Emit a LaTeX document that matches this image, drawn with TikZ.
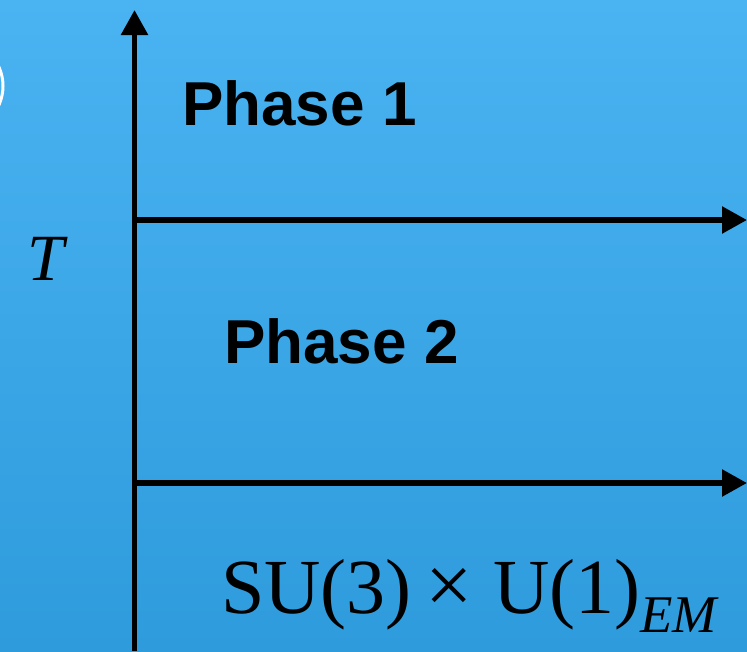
\documentclass[tikz,border=0pt]{standalone}
\usepackage{fontspec}
\setmainfont{Liberation Serif}
\newfontfamily\phasefont{Liberation Sans}
\usetikzlibrary{arrows.meta}
\definecolor{bgtop}{HTML}{4AB3F2}
\definecolor{bgbot}{HTML}{2E9BDC}
\tikzset{
  axisline/.style={line width=5.5pt, -{Triangle[length=25pt,width=26pt]}},
  phaselabel/.style={anchor=base west, inner sep=0pt, font=\phasefont\bfseries\fontsize{62}{62}\selectfont},
  mathlabel/.style={anchor=base west, inner sep=0pt, font=\fontsize{78}{78}\selectfont}
}
\begin{document}
\begin{tikzpicture}[x=1pt,y=-1pt]
\useasboundingbox (0,0) rectangle (747,651);
\shade[top color=bgtop, bottom color=bgbot] (0,0) rectangle (747,651);
% partial white ring at left edge
\begin{scope}
\clip (0,0) rectangle (747,651);
\draw[white, line width=3pt] (-43,86) circle[radius=46];
\end{scope}
% axes
\coordinate (vbot) at (134.5,651);
\coordinate (vtop) at (134.5,10);
\coordinate (h1s) at (134.5,220);
\coordinate (h1e) at (747,220);
\coordinate (h2s) at (134.5,483);
\coordinate (h2e) at (747,483);
\draw[axisline] (vbot) -- (vtop);
\draw[axisline] (h1s) -- (h1e);
\draw[axisline] (h2s) -- (h2e);
% labels
\node[phaselabel] (p1) at (182,125) {Phase 1};
\node[phaselabel] (p2) at (224,363) {Phase 2};
\node[mathlabel, font=\fontsize{66}{66}\selectfont\itshape] (T) at (27,280) {T};
\node[mathlabel] (su) at (221,613) {SU(3)};
\node[mathlabel, font=\fontsize{84}{84}\selectfont] (x) at (425,613) {×};
\node[mathlabel] (u1) at (493,613) {U(1)};
\node[mathlabel, font=\fontsize{53}{53}\selectfont\itshape] (em) at (640,632) {EM};
\end{tikzpicture}
\end{document}
